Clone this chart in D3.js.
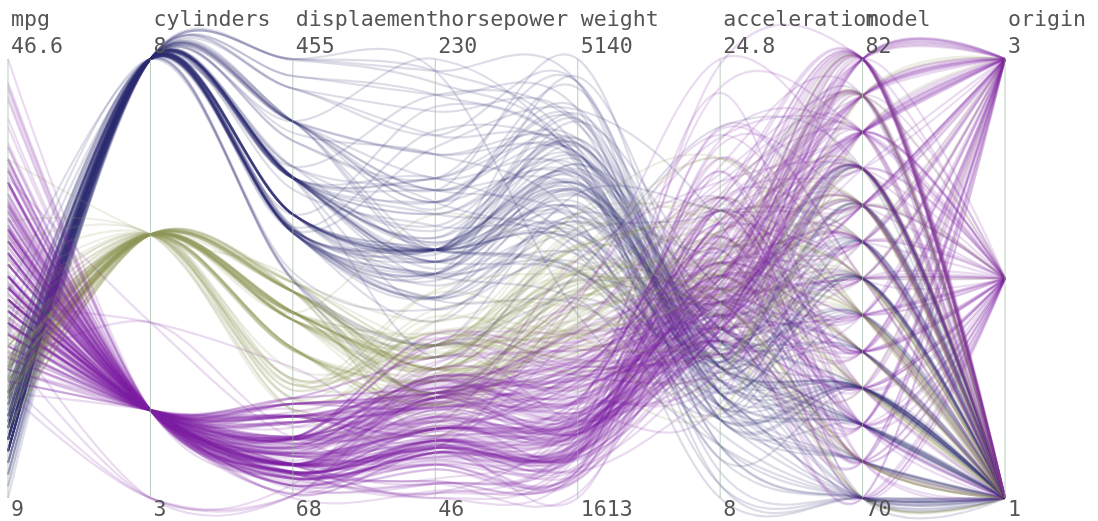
<!DOCTYPE html>
<html>
<head>
<meta charset="utf-8">
<script src="https://cdn.jsdelivr.net/npm/d3@7"></script>
<style>
html, body { margin: 0; background: #fff; overflow: hidden; }
svg { display: block; }
.lines { filter: blur(0.6px); }
.labels { filter: blur(0.3px); }
text { font-family: "DejaVu Sans Mono", monospace; font-size: 21.6px; fill: #555; }
</style>
</head>
<body>
<script>
// column order of every row below
const dimensions = [`mpg`, `cylinders`, `displaement`, `horsepower`, `weight`, `acceleration`, `model`, `origin`];
const topLabels = [46.6, 8, 455, 230, 5140, 24.8, 82, 3];
const bottomLabels = [9, 3, 68, 46, 1613, 8, 70, 1];

const cars70 = [[18,8,307,130,3504,12,70,1],[15,8,350,165,3693,11.5,70,1],[18,8,318,150,3436,11,70,1],[16,8,304,150,3433,12,70,1],[17,8,302,140,3449,10.5,70,1],[15,8,429,198,4341,10,70,1],[14,8,454,220,4354,9,70,1],[14,8,440,215,4312,8.5,70,1],[14,8,455,225,4425,10,70,1],[15,8,390,190,3850,8.5,70,1],[15,8,383,170,3563,10,70,1],[14,8,340,160,3609,8,70,1],[15,8,400,150,3761,9.5,70,1],[14,8,455,225,3086,10,70,1],[24,4,113,95,2372,15,70,3],[22,6,198,95,2833,15.5,70,1],[18,6,199,97,2774,15.5,70,1],[21,6,200,85,2587,16,70,1],[27,4,97,88,2130,14.5,70,3],[26,4,97,46,1835,20.5,70,2],[25,4,110,87,2672,17.5,70,2],[24,4,107,90,2430,14.5,70,2],[25,4,104,95,2375,17.5,70,2],[26,4,121,113,2234,12.5,70,2],[21,6,199,90,2648,15,70,1],[10,8,360,215,4615,14,70,1],[10,8,307,200,4376,15,70,1],[11,8,318,210,4382,13.5,70,1],[9,8,304,193,4732,18.5,70,1]];
const cars71 = [[27,4,97,88,2130,14.5,71,3],[28,4,140,90,2264,15.5,71,1],[25,4,113,95,2228,14,71,3],[19,6,232,100,2634,13,71,1],[16,6,225,105,3439,15.5,71,1],[17,6,250,100,3329,15.5,71,1],[19,6,250,88,3302,15.5,71,1],[18,6,232,100,3288,15.5,71,1],[14,8,350,165,4209,12,71,1],[14,8,400,175,4464,11.5,71,1],[14,8,351,153,4154,13.5,71,1],[14,8,318,150,4096,13,71,1],[12,8,383,180,4955,11.5,71,1],[13,8,400,170,4746,12,71,1],[13,8,400,175,5140,12,71,1],[18,6,258,110,2962,13.5,71,1],[22,4,140,72,2408,19,71,1],[19,6,250,100,3282,15,71,1],[18,6,250,88,3139,14.5,71,1],[23,4,122,86,2220,14,71,1],[28,4,116,90,2123,14,71,2],[30,4,79,70,2074,19.5,71,2],[30,4,88,76,2065,14.5,71,2],[31,4,71,65,1773,19,71,3],[35,4,72,69,1613,18,71,3],[27,4,97,60,1834,19,71,2],[26,4,91,70,1955,20.5,71,1]];
const cars72 = [[24,4,113,95,2278,15.5,72,3],[25,4,97.5,80,2126,17,72,1],[23,4,97,54,2254,23.5,72,2],[20,4,140,90,2408,19.5,72,1],[21,4,122,86,2226,16.5,72,1],[13,8,350,165,4274,12,72,1],[14,8,400,175,4385,12,72,1],[15,8,318,150,4135,13.5,72,1],[14,8,351,153,4129,13,72,1],[17,8,304,150,3672,11.5,72,1],[11,8,429,208,4633,11,72,1],[13,8,350,155,4502,13.5,72,1],[12,8,350,160,4456,13.5,72,1],[13,8,400,190,4422,12.5,72,1],[19,3,70,97,2330,13.5,72,3],[15,8,304,150,3892,12.5,72,1],[13,8,307,130,4098,14,72,1],[13,8,302,140,4294,16,72,1],[14,8,318,150,4077,14,72,1],[18,4,121,112,2933,14.5,72,2],[22,4,121,76,2511,18,72,2],[21,4,120,87,2979,19.5,72,2],[26,4,96,69,2189,18,72,2],[22,4,122,86,2395,16,72,1],[28,4,97,92,2288,17,72,3],[23,4,120,97,2506,14.5,72,3],[28,4,98,80,2164,15,72,1],[27,4,97,88,2100,16.5,72,3]];
const cars73 = [[13,8,350,175,4100,13,73,1],[14,8,304,150,3672,11.5,73,1],[13,8,350,145,3988,13,73,1],[14,8,302,137,4042,14.5,73,1],[15,8,318,150,3777,12.5,73,1],[12,8,429,198,4952,11.5,73,1],[13,8,400,150,4464,12,73,1],[13,8,351,158,4363,13,73,1],[14,8,318,150,4237,14.5,73,1],[13,8,440,215,4735,11,73,1],[12,8,455,225,4951,11,73,1],[13,8,360,175,3821,11,73,1],[18,6,225,105,3121,16.5,73,1],[16,6,250,100,3278,18,73,1],[18,6,232,100,2945,16,73,1],[18,6,250,88,3021,16.5,73,1],[23,6,198,95,2904,16,73,1],[26,4,97,46,1950,21,73,2],[11,8,400,150,4997,14,73,1],[12,8,400,167,4906,12.5,73,1],[13,8,360,170,4654,13,73,1],[12,8,350,180,4499,12.5,73,1],[18,6,232,100,2789,15,73,1],[20,4,97,88,2279,19,73,3],[21,4,140,72,2401,19.5,73,1],[22,4,108,94,2379,16.5,73,3],[18,3,70,90,2124,13.5,73,3],[19,4,122,85,2310,18.5,73,1],[21,6,155,107,2472,14,73,1],[26,4,98,90,2265,15.5,73,2],[15,8,350,145,4082,13,73,1],[16,8,400,230,4278,9.5,73,1],[29,4,68,49,1867,19.5,73,2],[24,4,116,75,2158,15.5,73,2],[20,4,114,91,2582,14,73,2],[19,4,121,112,2868,15.5,73,2],[15,8,318,150,3399,11,73,1],[24,4,121,110,2660,14,73,2],[20,6,156,122,2807,13.5,73,3],[11,8,350,180,3664,11,73,1]];
const cars74 = [[20,6,198,95,3102,16.5,74,1],[19,6,232,100,2901,16,74,1],[15,6,250,100,3336,17,74,1],[31,4,79,67,1950,19,74,3],[26,4,122,80,2451,16.5,74,1],[32,4,71,65,1836,21,74,3],[25,4,140,75,2542,17,74,1],[16,6,250,100,3781,17,74,1],[16,6,258,110,3632,18,74,1],[18,6,225,105,3613,16.5,74,1],[16,8,302,140,4141,14,74,1],[13,8,350,150,4699,14.5,74,1],[14,8,318,150,4457,13.5,74,1],[14,8,302,140,4638,16,74,1],[14,8,304,150,4257,15.5,74,1],[29,4,98,83,2219,16.5,74,2],[26,4,79,67,1963,15.5,74,2],[26,4,97,78,2300,14.5,74,2],[31,4,76,52,1649,16.5,74,3],[32,4,83,61,2003,19,74,3],[28,4,90,75,2125,14.5,74,1],[24,4,90,75,2108,15.5,74,2],[26,4,116,75,2246,14,74,2],[24,4,120,97,2489,15,74,3],[26,4,108,93,2391,15.5,74,3],[31,4,79,67,2000,16,74,2]];
const cars75 = [[19,6,225,95,3264,16,75,1],[18,6,250,105,3459,16,75,1],[15,6,250,72,3432,21,75,1],[15,6,250,72,3158,19.5,75,1],[16,8,400,170,4668,11.5,75,1],[15,8,350,145,4440,14,75,1],[16,8,318,150,4498,14.5,75,1],[14,8,351,148,4657,13.5,75,1],[17,6,231,110,3907,21,75,1],[16,6,250,105,3897,18.5,75,1],[15,6,258,110,3730,19,75,1],[18,6,225,95,3785,19,75,1],[21,6,231,110,3039,15,75,1],[20,8,262,110,3221,13.5,75,1],[13,8,302,129,3169,12,75,1],[29,4,97,75,2171,16,75,3],[23,4,140,83,2639,17,75,1],[20,6,232,100,2914,16,75,1],[23,4,140,78,2592,18.5,75,1],[24,4,134,96,2702,13.5,75,3],[25,4,90,71,2223,16.5,75,2],[24,4,119,97,2545,17,75,3],[18,6,171,97,2984,14.5,75,1],[29,4,90,70,1937,14,75,2],[19,6,232,90,3211,17,75,1],[23,4,115,95,2694,15,75,2],[23,4,120,88,2957,17,75,2],[22,4,121,98,2945,14.5,75,2],[25,4,121,115,2671,13.5,75,2],[33,4,91,53,1795,17.5,75,3]];
const cars76 = [[28,4,107,86,2464,15.5,76,2],[25,4,116,81,2220,16.9,76,2],[25,4,140,92,2572,14.9,76,1],[26,4,98,79,2255,17.7,76,1],[27,4,101,83,2202,15.3,76,2],[17.5,8,305,140,4215,13,76,1],[16,8,318,150,4190,13,76,1],[15.5,8,304,120,3962,13.9,76,1],[14.5,8,351,152,4215,12.8,76,1],[22,6,225,100,3233,15.4,76,1],[22,6,250,105,3353,14.5,76,1],[24,6,200,81,3012,17.6,76,1],[22.5,6,232,90,3085,17.6,76,1],[29,4,85,52,2035,22.2,76,1],[24.5,4,98,60,2164,22.1,76,1],[29,4,90,70,1937,14.2,76,2],[33,4,91,53,1795,17.4,76,3],[20,6,225,100,3651,17.7,76,1],[18,6,250,78,3574,21,76,1],[18.5,6,250,110,3645,16.2,76,1],[17.5,6,258,95,3193,17.8,76,1],[29.5,4,97,71,1825,12.2,76,2],[32,4,85,70,1990,17,76,3],[28,4,97,75,2155,16.4,76,3],[26.5,4,140,72,2565,13.6,76,1],[20,4,130,102,3150,15.7,76,2],[13,8,318,150,3940,13.2,76,1],[19,4,120,88,3270,21.9,76,2],[19,6,156,108,2930,15.5,76,3],[16.5,6,168,120,3820,16.7,76,2],[16.5,8,350,180,4380,12.1,76,1],[13,8,350,145,4055,12,76,1],[13,8,302,130,3870,15,76,1],[13,8,318,150,3755,14,76,1]];
const cars77 = [[31.5,4,98,68,2045,18.5,77,3],[30,4,111,80,2155,14.8,77,1],[36,4,79,58,1825,18.6,77,2],[25.5,4,122,96,2300,15.5,77,1],[33.5,4,85,70,1945,16.8,77,3],[17.5,8,305,145,3880,12.5,77,1],[17,8,260,110,4060,19,77,1],[15.5,8,318,145,4140,13.7,77,1],[15,8,302,130,4295,14.9,77,1],[17.5,6,250,110,3520,16.4,77,1],[20.5,6,231,105,3425,16.9,77,1],[19,6,225,100,3630,17.7,77,1],[18.5,6,250,98,3525,19,77,1],[16,8,400,180,4220,11.1,77,1],[15.5,8,350,170,4165,11.4,77,1],[15.5,8,400,190,4325,12.2,77,1],[16,8,351,149,4335,14.5,77,1],[29,4,97,78,1940,14.5,77,2],[24.5,4,151,88,2740,16,77,1],[26,4,97,75,2265,18.2,77,3],[25.5,4,140,89,2755,15.8,77,1],[30.5,4,98,63,2051,17,77,1],[33.5,4,98,83,2075,15.9,77,1],[30,4,97,67,1985,16.4,77,3],[30.5,4,97,78,2190,14.1,77,2],[22,6,146,97,2815,14.5,77,3],[21.5,4,121,110,2600,12.8,77,2],[21.5,3,80,110,2720,13.5,77,3]];
const cars78 = [[43.1,4,90,48,1985,21.5,78,2],[36.1,4,98,66,1800,14.4,78,1],[32.8,4,78,52,1985,19.4,78,3],[39.4,4,85,70,2070,18.6,78,3],[36.1,4,91,60,1800,16.4,78,3],[19.9,8,260,110,3365,15.5,78,1],[19.4,8,318,140,3735,13.2,78,1],[20.2,8,302,139,3570,12.8,78,1],[19.2,6,231,105,3535,19.2,78,1],[20.5,6,200,95,3155,18.2,78,1],[20.2,6,200,85,2965,15.8,78,1],[25.1,4,140,88,2720,15.4,78,1],[20.5,6,225,100,3430,17.2,78,1],[19.4,6,232,90,3210,17.2,78,1],[20.6,6,231,105,3380,15.8,78,1],[20.8,6,200,85,3070,16.7,78,1],[18.6,6,225,110,3620,18.7,78,1],[18.1,6,258,120,3410,15.1,78,1],[19.2,8,305,145,3425,13.2,78,1],[17.7,6,231,165,3445,13.4,78,1],[18.1,8,302,139,3205,11.2,78,1],[17.5,8,318,140,4080,13.7,78,1],[30,4,98,68,2155,16.5,78,1],[27.5,4,134,95,2560,14.2,78,3],[27.2,4,119,97,2300,14.7,78,3],[30.9,4,105,75,2230,14.5,78,1],[21.1,4,134,95,2515,14.8,78,3],[23.2,4,156,105,2745,16.7,78,1],[23.8,4,151,85,2855,17.6,78,1],[23.9,4,119,97,2405,14.9,78,3],[20.3,5,131,103,2830,15.9,78,2],[17,6,163,125,3140,13.6,78,2],[21.6,4,121,115,2795,15.7,78,2],[16.2,6,163,133,3410,15.8,78,2],[31.5,4,89,71,1990,14.9,78,2],[29.5,4,98,68,2135,16.6,78,3]];
const cars79 = [[21.5,6,231,115,3245,15.4,79,1],[19.8,6,200,85,2990,18.2,79,1],[22.3,4,140,88,2890,17.3,79,1],[20.2,6,232,90,3265,18.2,79,1],[20.6,6,225,110,3360,16.6,79,1],[17,8,305,130,3840,15.4,79,1],[17.6,8,302,129,3725,13.4,79,1],[16.5,8,351,138,3955,13.2,79,1],[18.2,8,318,135,3830,15.2,79,1],[16.9,8,350,155,4360,14.9,79,1],[15.5,8,351,142,4054,14.3,79,1],[19.2,8,267,125,3605,15,79,1],[18.5,8,360,150,3940,13,79,1],[31.9,4,89,71,1925,14,79,2],[34.1,4,86,65,1975,15.2,79,3],[35.7,4,98,80,1915,14.4,79,1],[27.4,4,121,80,2670,15,79,1],[25.4,5,183,77,3530,20.1,79,2],[23,8,350,125,3900,17.4,79,1],[27.2,4,141,71,3190,24.8,79,2],[23.9,8,260,90,3420,22.2,79,1],[34.2,4,105,70,2200,13.2,79,1],[34.5,4,105,70,2150,14.9,79,1],[31.8,4,85,65,2020,19.2,79,3],[37.3,4,91,69,2130,14.7,79,2],[28.4,4,151,90,2670,16,79,1],[28.8,6,173,115,2595,11.3,79,1],[26.8,6,173,115,2700,12.9,79,1],[33.5,4,151,90,2556,13.2,79,1]];
const cars80 = [[41.5,4,98,76,2144,14.7,80,2],[38.1,4,89,60,1968,18.8,80,3],[32.1,4,98,70,2120,15.5,80,1],[37.2,4,86,65,2019,16.4,80,3],[28,4,151,90,2678,16.5,80,1],[26.4,4,140,88,2870,18.1,80,1],[24.3,4,151,90,3003,20.1,80,1],[19.1,6,225,90,3381,18.7,80,1],[34.3,4,97,78,2188,15.8,80,2],[29.8,4,134,90,2711,15.5,80,3],[31.3,4,120,75,2542,17.5,80,3],[37,4,119,92,2434,15,80,3],[32.2,4,108,75,2265,15.2,80,3],[46.6,4,86,65,2110,17.9,80,3],[27.9,4,156,105,2800,14.4,80,1],[40.8,4,85,65,2110,19.2,80,3],[44.3,4,90,48,2085,21.7,80,2],[43.4,4,90,48,2335,23.7,80,2],[36.4,5,121,67,2950,19.9,80,2],[30,4,146,67,3250,21.8,80,2],[44.6,4,91,67,1850,13.8,80,3],[33.8,4,97,67,2145,18,80,3],[29.8,4,89,62,1845,15.3,80,2],[32.7,6,168,132,2910,11.4,80,3],[23.7,3,70,100,2420,12.5,80,3],[35,4,122,88,2500,15.1,80,2],[32.4,4,107,72,2290,17,80,3]];
const cars81 = [[27.2,4,135,84,2490,15.7,81,1],[26.6,4,151,84,2635,16.4,81,1],[25.8,4,156,92,2620,14.4,81,1],[23.5,6,173,110,2725,12.6,81,1],[30,4,135,84,2385,12.9,81,1],[39.1,4,79,58,1755,16.9,81,3],[39,4,86,64,1875,16.4,81,1],[35.1,4,81,60,1760,16.1,81,3],[32.3,4,97,67,2065,17.8,81,3],[37,4,85,65,1975,19.4,81,3],[37.7,4,89,62,2050,17.3,81,3],[34.1,4,91,68,1985,16,81,3],[34.7,4,105,63,2215,14.9,81,1],[34.4,4,98,65,2045,16.2,81,1],[29.9,4,98,65,2380,20.7,81,1],[33,4,105,74,2190,14.2,81,2],[33.7,4,107,75,2210,14.4,81,3],[32.4,4,108,75,2350,16.8,81,3],[32.9,4,119,100,2615,14.8,81,3],[31.6,4,120,74,2635,18.3,81,3],[28.1,4,141,80,3230,20.4,81,2],[30.7,6,145,76,3160,19.6,81,2],[25.4,6,168,116,2900,12.6,81,3],[24.2,6,146,120,2930,13.8,81,3],[22.4,6,231,110,3415,15.8,81,1],[26.6,8,350,105,3725,19,81,1],[20.2,6,200,88,3060,17.1,81,1],[17.6,6,225,85,3465,16.6,81,1]];
const cars82 = [[28,4,112,88,2605,19.6,82,1],[27,4,112,88,2640,18.6,82,1],[34,4,112,88,2395,18,82,1],[31,4,112,85,2575,16.2,82,1],[29,4,135,84,2525,16,82,1],[27,4,151,90,2735,18,82,1],[24,4,140,92,2865,16.4,82,1],[36,4,105,74,1980,15.3,82,2],[37,4,91,68,2025,18.2,82,3],[31,4,91,68,1970,17.6,82,3],[38,4,105,63,2125,14.7,82,1],[36,4,98,70,2125,17.3,82,1],[36,4,120,88,2160,14.5,82,3],[36,4,107,75,2205,14.5,82,3],[34,4,108,70,2245,16.9,82,3],[38,4,91,67,1965,15,82,3],[32,4,91,67,1965,15.7,82,3],[38,4,91,67,1995,16.2,82,3],[25,6,181,110,2945,16.4,82,1],[38,6,262,85,3015,17,82,1],[26,4,156,92,2585,14.5,82,1],[22,6,232,112,2835,14.7,82,1],[32,4,144,96,2665,13.9,82,3],[36,4,135,84,2370,13,82,1],[27,4,151,90,2950,17.3,82,1],[27,4,140,86,2790,15.6,82,1],[44,4,97,52,2130,24.6,82,2],[32,4,135,84,2295,11.6,82,1],[28,4,120,79,2625,18.6,82,1],[31,4,119,82,2720,19.4,82,1]];

const cars = [].concat(cars70, cars71, cars72, cars73, cars74, cars75, cars76, cars77, cars78, cars79, cars80, cars81, cars82);

const width = 1098, height = 521;
const axisTop = 59, axisBottom = 498;

const x = d3.scalePoint().domain(dimensions).range([8, 1005]);
const y = dimensions.map((d, i) =>
	d3.scaleLinear().domain([bottomLabels[i], topLabels[i]]).range([axisBottom, axisTop])
);

const lineColor = cyl => (cyl === 8 ? `#2a2c72` : cyl === 6 ? `#8f9458` : `#7a1fa2`);

const line = d3.line()
	.x(d => d[0])
	.y(d => d[1])
	.curve(d3.curveCardinal.tension(0));

const svg = d3.select(`body`).append(`svg`).attr(`width`, width).attr(`height`, height);

svg.append(`g`)
	.attr(`class`, `lines`)
	.selectAll(`path`)
	.data(cars)
	.enter()
	.append(`path`)
	.attr(`d`, row => line(row.map((v, i) => [x(dimensions[i]), y[i](v)])))
	.attr(`fill`, `none`)
	.attr(`stroke`, row => lineColor(row[1]))
	.attr(`stroke-width`, 2.2)
	.attr(`stroke-opacity`, 0.16);

const axes = svg.append(`g`)
	.attr(`class`, `labels`)
	.selectAll(`g`)
	.data(dimensions)
	.enter()
	.append(`g`)
	.attr(`transform`, d => `translate(${x(d)},0)`);

axes.append(`line`)
	.attr(`y1`, axisTop)
	.attr(`y2`, axisBottom)
	.attr(`stroke`, `#9fb8a5`)
	.attr(`stroke-opacity`, 0.7);

axes.append(`text`).attr(`x`, 3).attr(`y`, 26).text(d => d);
axes.append(`text`).attr(`x`, 3).attr(`y`, 53).text((d, i) => topLabels[i]);
axes.append(`text`).attr(`x`, 3).attr(`y`, 516).text((d, i) => bottomLabels[i]);
</script>
</body>
</html>
